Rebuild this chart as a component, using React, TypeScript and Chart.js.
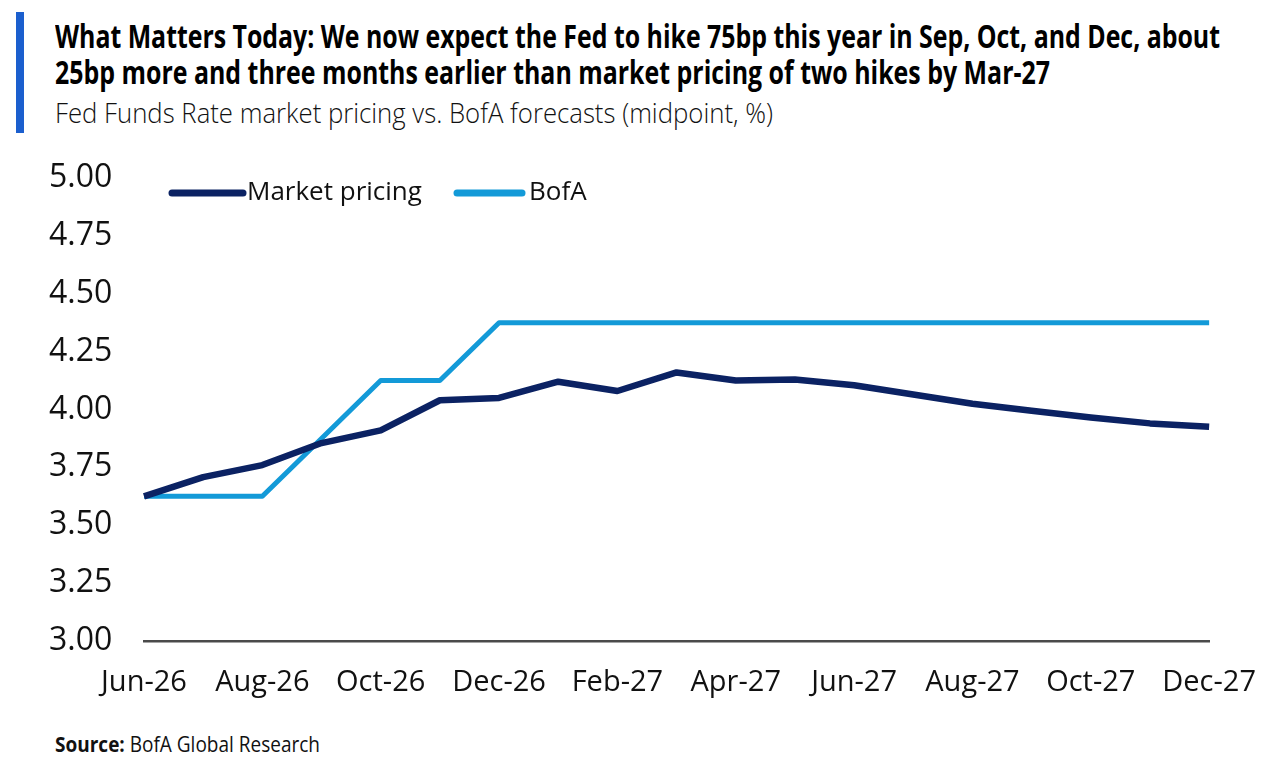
import React, { useEffect, useLayoutEffect, useRef } from "react";
import { Chart, registerables } from "chart.js";

Chart.register(...registerables);

const months = [
  "Jun-26", "Jul-26", "Aug-26", "Sep-26", "Oct-26", "Nov-26", "Dec-26",
  "Jan-27", "Feb-27", "Mar-27", "Apr-27", "May-27", "Jun-27", "Jul-27",
  "Aug-27", "Sep-27", "Oct-27", "Nov-27", "Dec-27",
];
const marketPricing = [
  3.625, 3.708, 3.76, 3.855, 3.91, 4.04, 4.05, 4.12, 4.08, 4.16, 4.125,
  4.13, 4.105, 4.065, 4.025, 3.995, 3.965, 3.94, 3.925,
];
const bofa = [
  3.625, 3.625, 3.625, 3.875, 4.125, 4.125, 4.375, 4.375, 4.375, 4.375,
  4.375, 4.375, 4.375, 4.375, 4.375, 4.375, 4.375, 4.375, 4.375,
];
const yMin = 3.0;
const yMax = 5.0;
const yStep = 0.25;

const seriesNames = ["Market pricing", "BofA"];
const seriesColors = ["#0b2263", "#139ad8"];

const titleLine1 =
  "What Matters Today: We now expect the Fed to hike 75bp this year in Sep, Oct, and Dec, about";
const titleLine2 =
  "25bp more and three months earlier than market pricing of two hikes by Mar-27";
const subtitle = "Fed Funds Rate market pricing vs. BofA forecasts (midpoint, %)";

const FONT = "'Open Sans', 'Noto Sans', 'DejaVu Sans', sans-serif";

function FitText(props: { width: number; style: React.CSSProperties; children: React.ReactNode }) {
  const ref = useRef<HTMLSpanElement>(null);
  useLayoutEffect(() => {
    const el = ref.current;
    if (!el) return;
    el.style.transform = "none";
    const w = el.getBoundingClientRect().width;
    if (w > 0) el.style.transform = `scaleX(${props.width / w})`;
  });
  return (
    <span
      ref={ref}
      style={{
        display: "inline-block",
        whiteSpace: "nowrap",
        transformOrigin: "left center",
        ...props.style,
      }}
    >
      {props.children}
    </span>
  );
}

const legendPlugin = {
  id: "inlineLegend",
  afterDraw(chart: any) {
    const ctx = chart.ctx;
    const area = chart.chartArea;
    const y = area.top + 15;
    const items = [
      { x0: area.left + 28, x1: area.left + 99, tx: area.left + 103 },
      { x0: area.left + 313, x1: area.left + 378, tx: area.left + 385 },
    ];
    ctx.save();
    chart.data.datasets.forEach((ds: any, i: number) => {
      const it = items[i];
      ctx.strokeStyle = ds.borderColor;
      ctx.lineWidth = 7;
      ctx.lineCap = "round";
      ctx.beginPath();
      ctx.moveTo(it.x0, y);
      ctx.lineTo(it.x1, y);
      ctx.stroke();
      ctx.fillStyle = "#111";
      ctx.font = `26px ${FONT}`;
      ctx.textBaseline = "middle";
      ctx.textAlign = "left";
      ctx.fillText(ds.label, it.tx, y);
    });
    ctx.restore();
  },
};

function LineChart() {
  const canvasRef = useRef<HTMLCanvasElement>(null);
  useEffect(() => {
    const canvas = canvasRef.current;
    if (!canvas) return;
    const chart = new Chart(canvas, {
      type: "line",
      data: {
        labels: months,
        datasets: [
          {
            label: seriesNames[0],
            data: marketPricing,
            borderColor: seriesColors[0],
            backgroundColor: seriesColors[0],
            borderWidth: 6.5,
            pointRadius: 0,
            tension: 0,
            borderJoinStyle: "round",
          },
          {
            label: seriesNames[1],
            data: bofa,
            borderColor: seriesColors[1],
            backgroundColor: seriesColors[1],
            borderWidth: 5,
            pointRadius: 0,
            tension: 0,
            borderJoinStyle: "round",
          },
        ],
      },
      options: {
        responsive: false,
        animation: false,
        layout: { padding: { left: 49, right: 68, top: 38, bottom: 0 } },
        plugins: { legend: { display: false }, tooltip: { enabled: false } },
        scales: {
          x: {
            grid: { display: false, drawTicks: false },
            border: { display: true, color: "#4a4a4a", width: 2.5 },
            ticks: {
              autoSkip: false,
              maxRotation: 0,
              padding: 24,
              color: "#111",
              font: { family: FONT, size: 29 },
              callback: (_v: any, i: number) => (i % 2 === 0 ? months[i] : ""),
            },
            afterFit: (s: any) => {
              s.height = 69;
            },
          },
          y: {
            min: yMin,
            max: yMax,
            grid: { display: false, drawTicks: false },
            border: { display: false },
            ticks: {
              stepSize: yStep,
              crossAlign: "far",
              color: "#111",
              font: { family: FONT, size: 32 },
              callback: (v: any) => Number(v).toFixed(2),
            },
            afterFit: (s: any) => {
              s.width = 95;
            },
          },
        },
      },
      plugins: [legendPlugin],
    });
    return () => chart.destroy();
  }, []);
  return (
    <canvas
      ref={canvasRef}
      width={1280}
      height={570}
      style={{ position: "absolute", left: 0, top: 140, width: 1280, height: 570 }}
    />
  );
}

export default function App() {
  useEffect(() => {
    document.body.style.margin = "0";
  }, []);
  return (
    <div style={{ position: "relative", width: 1280, height: 760, background: "#fff", overflow: "hidden", fontFamily: FONT, color: "#000" }}>
      <div style={{ position: "absolute", left: 16, top: 12, width: 8, height: 121, background: "#1b5fce" }} />
      <div style={{ position: "absolute", left: 55, top: 20, lineHeight: "32px" }}>
        <FitText width={1165} style={{ fontSize: 32.5, fontWeight: 700, lineHeight: "32px" }}>{titleLine1}</FitText>
      </div>
      <div style={{ position: "absolute", left: 55, top: 56, lineHeight: "32px" }}>
        <FitText width={995} style={{ fontSize: 32.5, fontWeight: 700, lineHeight: "32px" }}>{titleLine2}</FitText>
      </div>
      <div style={{ position: "absolute", left: 55, top: 98, lineHeight: "28px" }}>
        <FitText width={718} style={{ fontSize: 28, fontWeight: 300, lineHeight: "28px", color: "#111" }}>{subtitle}</FitText>
      </div>
      <LineChart />
      <div style={{ position: "absolute", left: 55, top: 734, lineHeight: "21px" }}>
        <FitText width={265} style={{ fontSize: 21, lineHeight: "21px", color: "#111" }}>
          <b>Source:</b> BofA Global Research
        </FitText>
      </div>
    </div>
  );
}
